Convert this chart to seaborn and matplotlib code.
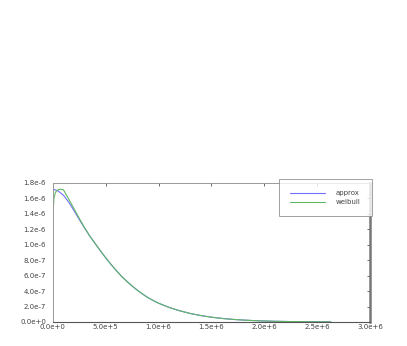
import matplotlib
matplotlib.use("Agg")
import matplotlib.pyplot as plt
import seaborn as sns
import pandas as pd

# values (x in units of 1e5, y in units of 1e-6)
approx_x = [0, 0.5, 1, 1.5, 2, 2.5, 3, 3.5, 4, 4.5, 5, 5.5, 6, 6.5, 7, 7.5,
            8, 8.5, 9, 9.5, 10, 11, 12, 13, 14, 15, 16, 17, 18, 19, 20, 21,
            22, 23, 24, 25, 26, 26.3]
approx_y = [1.72, 1.695, 1.64, 1.55, 1.44, 1.325, 1.215, 1.11, 1.015, 0.92,
            0.83, 0.745, 0.665, 0.59, 0.525, 0.465, 0.41, 0.36, 0.315, 0.277,
            0.243, 0.188, 0.145, 0.11, 0.083, 0.062, 0.046, 0.034, 0.025,
            0.018, 0.013, 0.009, 0.0065, 0.0047, 0.0034, 0.0025, 0.0018,
            0.0016]
weibull_x = [0, 0.01, 0.05, 0.1, 0.2, 0.3, 0.5, 0.7, 1, 1.5, 2, 2.5, 3, 3.5,
             4, 4.5, 5, 5.5, 6, 6.5, 7, 7.5, 8, 8.5, 9, 9.5, 10, 11, 12, 13,
             14, 15, 16, 17, 18, 19, 20, 21, 22, 23, 24, 25, 26, 26.3]
weibull_y = [0.0, 1.2, 1.5, 1.6, 1.66, 1.69, 1.712, 1.72, 1.71, 1.59, 1.465,
             1.34, 1.22, 1.11, 1.015, 0.92, 0.83, 0.745, 0.665, 0.59, 0.525,
             0.465, 0.41, 0.36, 0.315, 0.277, 0.243, 0.188, 0.145, 0.11,
             0.083, 0.062, 0.046, 0.034, 0.025, 0.018, 0.013, 0.009, 0.0065,
             0.0047, 0.0034, 0.0025, 0.0018, 0.0016]

xticks = [0, 5e5, 1e6, 1.5e6, 2e6, 2.5e6, 3e6]
xtick_labels = ["0.0e+0", "5.0e+5", "1.0e+6", "1.5e+6", "2.0e+6", "2.5e+6", "3.0e+6"]
yticks = [0, 2e-7, 4e-7, 6e-7, 8e-7, 1e-6, 1.2e-6, 1.4e-6, 1.6e-6, 1.8e-6]
ytick_labels = ["0.0e+0", "2.0e-7", "4.0e-7", "6.0e-7", "8.0e-7", "1.0e-6",
                "1.2e-6", "1.4e-6", "1.6e-6", "1.8e-6"]

df = pd.concat([
    pd.DataFrame({"x": [v * 1e5 for v in approx_x],
                  "y": [v * 1e-6 for v in approx_y], "series": "approx"}),
    pd.DataFrame({"x": [v * 1e5 for v in weibull_x],
                  "y": [v * 1e-6 for v in weibull_y], "series": "weibull"}),
])

sns.set_theme(style="white")
plt.rcParams["font.family"] = ["DejaVu Sans"]

fig = plt.figure(figsize=(4.07, 3.46), dpi=100)
ax = fig.add_axes([0.130, 0.0694, 0.779, 0.402])

sns.lineplot(data=df, x="x", y="y", hue="series", sort=False,
             palette={"approx": "#6f6fff", "weibull": "#62b862"},
             linewidth=0.8, estimator=None, ax=ax)

ax.set_xlim(0, 3e6)
ax.set_ylim(0, 1.8e-6)
ax.set_xticks(xticks, xtick_labels)
ax.set_yticks(yticks, ytick_labels)
ax.set_xlabel("")
ax.set_ylabel("")
ax.tick_params(direction="in", length=2.5, width=0.6, color="#555555",
               labelsize=5, labelcolor="#444444", top=True, right=True)
ax.tick_params(axis="x", pad=1.5)
ax.tick_params(axis="y", pad=5)

for side in ["top", "left"]:
    ax.spines[side].set_color("#999999")
    ax.spines[side].set_linewidth(0.7)
ax.spines["bottom"].set_color("#555555")
ax.spines["bottom"].set_linewidth(0.8)
ax.spines["right"].set_color("#777777")
ax.spines["right"].set_linewidth(1.8)

leg = ax.legend(loc="upper right", bbox_to_anchor=(1.006, 1.029), frameon=True,
                fancybox=False, fontsize=5, handlelength=5.0, borderpad=1.6,
                labelspacing=0.45, handletextpad=1.6, borderaxespad=0)
leg.get_frame().set_edgecolor("#888888")
leg.get_frame().set_linewidth(0.7)
for t in leg.get_texts():
    t.set_color("#444444")

fig.savefig("out.png", dpi=100, facecolor="white")
